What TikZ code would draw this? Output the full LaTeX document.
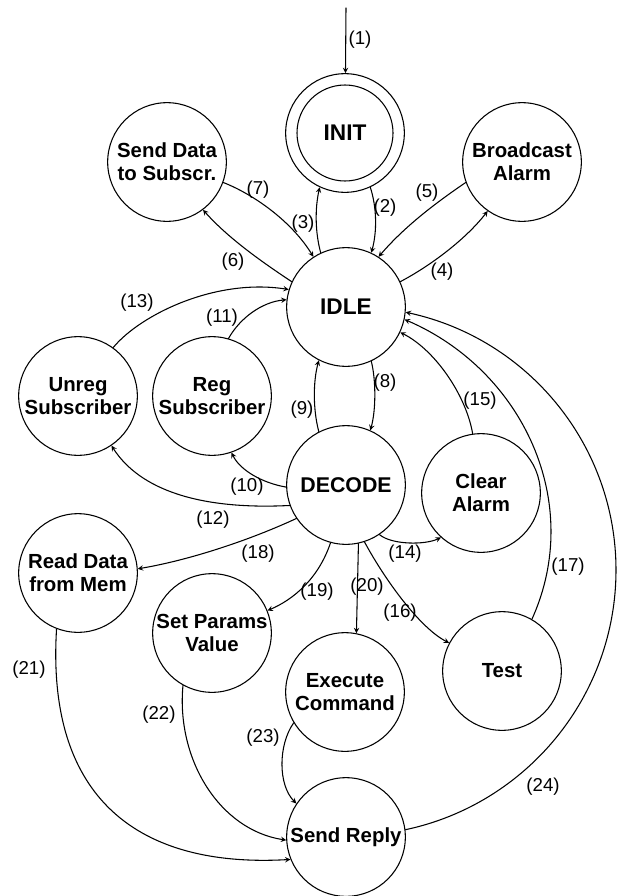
\documentclass[tikz,border=0pt]{standalone}
\usepackage{fontspec}
\setmainfont{Liberation Sans}
\begin{document}
\begin{tikzpicture}[
		>=stealth,
		thick,
		line cap=round,
		line join=round,
		x=0.75pt,y=-0.75pt,
		state/.style={circle,draw,minimum size=89pt,inner sep=0pt,align=center,font={\bfseries\fontsize{15.3}{17.5}\selectfont}},
		bigstate/.style={state,font={\bfseries\fontsize{17}{20}\selectfont}},
		lbl/.style={font={\fontsize{14}{16}\selectfont},inner sep=0pt}
		]
		\useasboundingbox (0,0) rectangle (617,896);
		% states
		\node[bigstate] (init) at (345,133) {INIT};
		\draw (init.center) circle[radius=36pt];
		\node[state] (send) at (167,162) {Send Data\\to Subscr.};
		\node[state] (bcast) at (522,162) {Broadcast\\Alarm};
		\node[bigstate] (idle) at (346,307) {IDLE};
		\node[state] (unreg) at (78,396) {Unreg\\Subscriber};
		\node[state] (reg) at (212,396) {Reg\\Subscriber};
		\node[bigstate,font={\bfseries\fontsize{16}{19}\selectfont}] (decode) at (346,485) {DECODE};
		\node[state] (clear) at (481,493) {Clear\\Alarm};
		\node[state] (read) at (78,573) {Read Data\\from Mem};
		\node[state] (setp) at (212,633) {Set Params\\Value};
		\node[state] (exec) at (345,692) {Execute\\Command};
		\node[state] (test) at (502,671) {Test};
		\node[state] (reply) at (346,837) {Send Reply};
		\coordinate (entry) at (346,8);
		\coordinate (rim) at (616,570);
		% transitions
		\begin{scope}[->]
		\draw (entry) -- (init) node[lbl] (l1) at (360,40) {(1)};
		\draw (init.-65) .. controls (377,208) and (377,232) .. (idle.65) node[lbl] (l2) at (385,208) {(2)};
		\draw (idle.115) .. controls (315,232) and (315,208) .. (init.245) node[lbl] (l3) at (303,224) {(3)};
		\draw (idle.25) .. controls (430,266) and (465,240) .. (bcast.235) node[lbl] (l4) at (442,272) {(4)};
		\draw (bcast.200) .. controls (437,202) and (405,226) .. (idle.57) node[lbl] (l5) at (427,193) {(5)};
		\draw (idle.155) .. controls (262,262) and (228,238) .. (send.307) node[lbl] (l6) at (233,262) {(6)};
		\draw (send.-20) .. controls (255,195) and (292,222) .. (idle.123) node[lbl] (l7) at (258,190) {(7)};
		\draw (idle.-65) .. controls (376,380) and (376,410) .. (decode.66) node[lbl] (l8) at (385,383) {(8)};
		\draw (decode.117) .. controls (313,410) and (313,382) .. (idle.243) node[lbl] (l9) at (302,410) {(9)};
		\draw (decode.182) .. controls (262,483) and (240,470) .. (reg.289) node[lbl] (l10) at (247,487) {(10)};
		\draw (reg.74) .. controls (240,318) and (262,302) .. (idle.173) node[lbl] (l11) at (222,318) {(11)};
		\draw (decode.200) .. controls (200,510) and (140,490) .. (unreg.304) node[lbl] (l12) at (213,520) {(12)};
		\draw (unreg.54) .. controls (140,315) and (215,278) .. (idle.163) node[lbl] (l13) at (137,303) {(13)};
		\draw (decode.-56) .. controls (392,545) and (425,545) .. (clear.228) node[lbl] (l14) at (405,554) {(14)};
		\draw (clear.98) .. controls (466,395) and (435,350) .. (idle.-25) node[lbl] (l15) at (480,401) {(15)};
		\draw (decode.-72) .. controls (385,580) and (420,628) .. (test.152) node[lbl] (l16) at (400,613) {(16)};
		\draw (test.60) .. controls (585,502) and (522,370) .. (idle.-12) node[lbl] (l17) at (568,567) {(17)};
		\draw (decode.214) .. controls (250,540) and (190,560) .. (read.4) node[lbl] (l18) at (258,554) {(18)};
		\draw (decode.255) .. controls (318,580) and (292,600) .. (setp.22) node[lbl] (l19) at (317,592) {(19)};
		\draw (decode.-78) -- (exec.79) node[lbl] (l20) at (367,587) {(20)};
		\draw (read.249) .. controls (46,800) and (140,868) .. (reply.202) node[lbl] (l21) at (29,670) {(21)};
		\draw (setp.241) .. controls (176,760) and (220,830) .. (reply.183) node[lbl] (l22) at (159,715) {(22)};
		\draw (exec.211) .. controls (278,745) and (278,785) .. (reply.146) node[lbl] (l23) at (263,738) {(23)};
		\draw (reply.7) .. controls (527,804) and (616,696) .. (rim) .. controls (616,446) and (529,339) .. (idle.-5) node[lbl] (l24) at (543,787) {(24)};
		\end{scope}
\end{tikzpicture}
\end{document}
